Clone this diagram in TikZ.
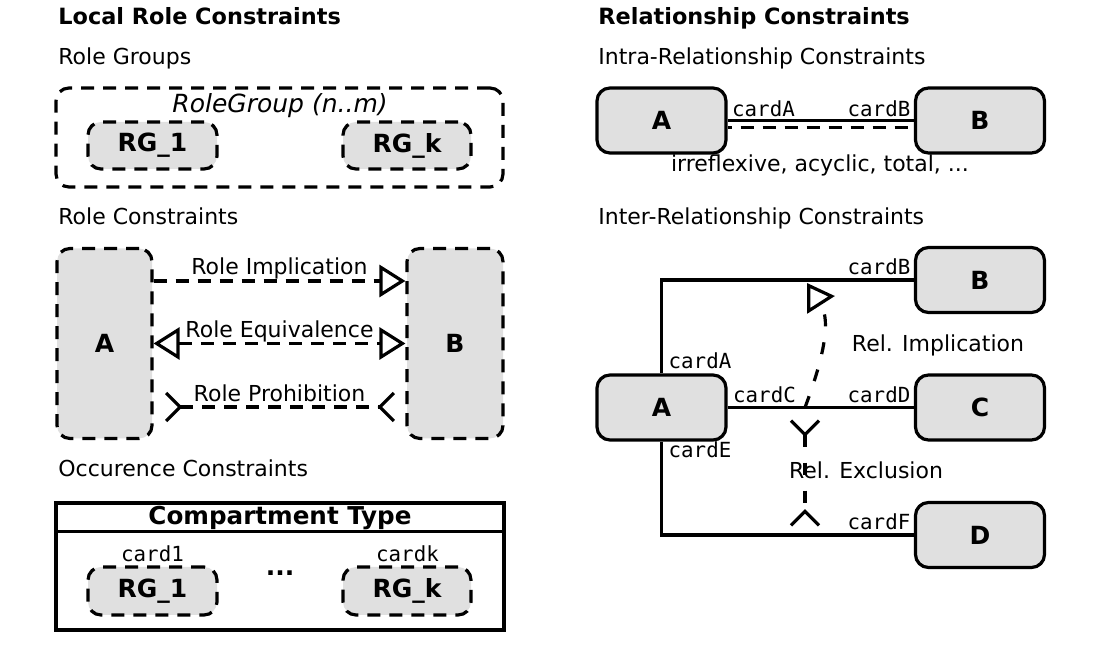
\documentclass[tikz,border=0pt]{standalone}
\usepackage{fontspec}
\setmainfont{DejaVu Sans}
\setmonofont{DejaVu Sans Mono}
\usetikzlibrary{arrows.meta}
\definecolor{boxgray}{RGB}{224,224,224}

\begin{document}
\begin{tikzpicture}[x=0.5pt,y=-0.5pt,
  every node/.style={inner sep=0pt},
  lw/.style={line width=1.6pt},
  dsh/.style={dash pattern=on 6.5pt off 4.5pt},
  rolebox/.style={lw,dsh,draw,fill=boxgray,rounded corners=6.5pt,font=\fontsize{12.5}{14}\bfseries},
  relbox/.style={lw,draw,fill=boxgray,rounded corners=6.5pt,minimum width=64.5pt,minimum height=32.5pt,font=\fontsize{12.5}{14}\bfseries},
  head/.style={anchor=base west,font=\fontsize{11.2}{13}\bfseries},
  sub/.style={anchor=base west,font=\fontsize{11}{13}\selectfont},
  lbl/.style={anchor=base,font=\fontsize{11}{13}\selectfont},
  card/.style={anchor=base,font=\fontsize{10.4}{12}\ttfamily},
  tri/.tip={Triangle[open,length=13pt,width=16pt]},
  barb/.tip={Straight Barb[reversed,length=7pt,width=14pt]},
  impl/.style={-tri},
  equiv/.style={tri-tri},
  excl/.style={barb-barb}
]
\useasboundingbox (0,0) rectangle (1104,656);

% local role constraints
\node[head] (lrc) at (58,25) {Local Role Constraints};
\node[sub] (rgs) at (58,65) {Role Groups};
\node[rolebox,fill=none,minimum width=223.5pt,minimum height=49.5pt] (grp) at (279.5,137.5) {};
\node[anchor=base,font=\fontsize{12.5}{14}\itshape] (grplbl) at (280,113) {RoleGroup (n..m)};
\node[rolebox,minimum width=64.5pt,minimum height=23.5pt] (rg1) at (152.5,145.5) {RG\_1};
\node[rolebox,minimum width=64pt,minimum height=23.5pt] (rgk) at (407,145.5) {RG\_k};

\node[sub] (rcs) at (58,225) {Role Constraints};
\node[rolebox,minimum width=47.5pt,minimum height=95pt] (ra) at (104.5,343.5) {A};
\node[rolebox,minimum width=48pt,minimum height=95pt] (rb) at (455,343.5) {B};
\draw[lw,dsh,impl] ([yshift=31.25pt]ra.east) -- node[lbl,yshift=3pt] (rimpl) {Role Implication} ([yshift=31.25pt]rb.west);
\draw[lw,dsh,equiv] (ra) -- node[lbl,yshift=3pt] (requiv) {Role Equivalence} (rb);
\draw[lw,dsh,excl,shorten <=5.5pt,shorten >=5pt] ([yshift=-31.75pt]ra.east) -- node[lbl,yshift=2.5pt] (rproh) {Role Prohibition} ([yshift=-31.75pt]rb.west);

\node[sub] (ocs) at (58,477) {Occurence Constraints};
\node[draw,lw,minimum width=224pt,minimum height=63.5pt] (ct) at (280,566.5) {};
\draw[lw] ([yshift=-15pt]ct.north west) -- ([yshift=-15pt]ct.north east);
\node[anchor=base,font=\fontsize{12.3}{14}\bfseries] (cttitle) at (280,525) {Compartment Type};
\node[card] (cone) at (152.5,562) {card1};
\node[card] (ck) at (407.5,562) {cardk};
\node[rolebox,minimum width=64.5pt,minimum height=24pt] (crg1) at (152.5,591) {RG\_1};
\node[rolebox,minimum width=64pt,minimum height=24pt] (crgk) at (407,591) {RG\_k};
\node[font=\fontsize{12.5}{14}\bfseries] (dots) at (280,573) {...};

% relationship constraints
\node[head] (rlc) at (598,25) {Relationship Constraints};
\node[sub] (intra) at (598,65) {Intra-Relationship Constraints};
\node[relbox] (ia) at (661.5,120.5) {A};
\node[relbox] (ib) at (980,120.5) {B};
\draw[lw] (ia) -- (ib);
\draw[lw,dsh,dash phase=4.5pt] ([yshift=-3.5pt]ia.east) -- ([yshift=-3.5pt]ib.west);
\node[card] (ica) at (763.5,117) {cardA};
\node[card] (icb) at (879,117) {cardB};
\node[lbl] (props) at (820,172) {irreflexive, acyclic, total, ...};

\node[sub] (inter) at (598,225) {Inter-Relationship Constraints};
\node[relbox] (xa) at (661.5,407.5) {A};
\node[relbox] (xb) at (980,280) {B};
\node[relbox] (xc) at (980,407.5) {C};
\node[relbox] (xd) at (980,535) {D};
\draw[lw] (xa.north) |- (xb.west);
\draw[lw] (xa) -- (xc);
\draw[lw] (xa.south) |- (xd.west);
\node[card] (xca) at (700,369) {cardA};
\node[card] (xcb) at (879,275) {cardB};
\node[card] (xcc) at (764.5,403) {cardC};
\node[card] (xcd) at (879,403) {cardD};
\node[card] (xce) at (700,458) {cardE};
\node[card] (xcf) at (879,530) {cardF};

\coordinate (impfrom) at (805,407.5);
\coordinate (impto) at (807,283);
\draw[lw,dash pattern=on 6pt off 8pt,impl] (impfrom) .. controls (822,362) and (832,322) .. (impto);
\node[lbl] (rimp) at (938,352) {Rel. Implication};
\coordinate (exfrom) at (805,419);
\coordinate (exto) at (805,527);
\draw[lw,dash pattern=on 6pt off 8pt,excl] (exfrom) -- (exto);
\node[lbl] (rexc) at (866,479) {Rel. Exclusion};
\end{tikzpicture}
\end{document}
